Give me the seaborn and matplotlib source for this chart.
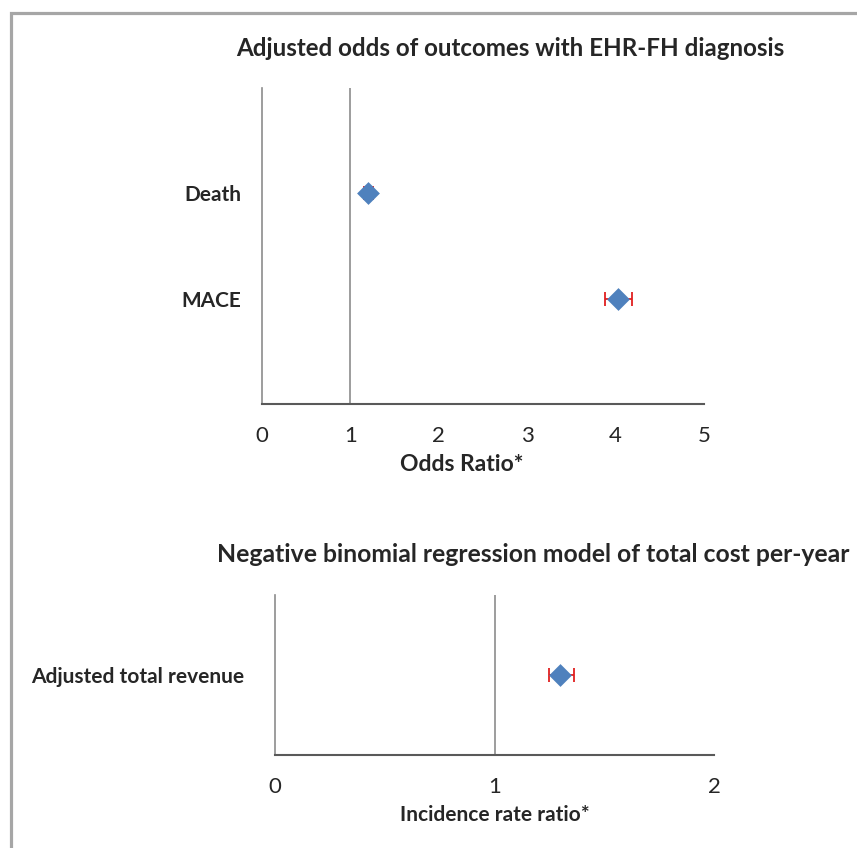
import numpy as np
import pandas as pd
import matplotlib
matplotlib.use("Agg")
import matplotlib.pyplot as plt
from matplotlib.patches import Rectangle
import seaborn as sns

# data
outcomes   = ["Death", "MACE"]
odds_ratio = [1.20, 4.03]
or_lower   = [1.15, 3.88]
or_upper   = [1.25, 4.18]

cost_labels = ["Adjusted total revenue"]
irr         = [1.30]
irr_lower   = [1.25]
irr_upper   = [1.36]

or_ticks  = [0, 1, 2, 3, 4, 5]
irr_ticks = [0, 1, 2]

MARKER = "#4F81BD"
CI_RED = "#E02020"
GRID   = "#8c8c8c"
AXIS   = "#595959"

sns.set_theme(style="white")
plt.rcParams["font.family"] = ["Lato", "DejaVu Sans"]

W, H = 857, 848
fig = plt.figure(figsize=(W / 100, H / 100), dpi=100)


def px_axes(left, top, right, bottom):
    return fig.add_axes([left / W, 1 - bottom / H, (right - left) / W, (bottom - top) / H])


def forest(ax, labels, est, lo, hi, ticks, xlabel, label_fs, ypad):
    df = pd.DataFrame({"label": labels, "est": est})
    pos = np.arange(len(labels))
    err = [np.array(est) - np.array(lo), np.array(hi) - np.array(est)]
    ax.errorbar(est, pos, xerr=err, fmt="none", ecolor=CI_RED, elinewidth=1.3,
                capsize=5, capthick=1.3, zorder=2)
    sns.scatterplot(data=df, x="est", y="label", marker="D", s=135, color=MARKER,
                    edgecolor=MARKER, linewidth=0, zorder=3, ax=ax)
    ax.axvline(1, color=GRID, lw=1.2, zorder=1)
    ax.set_xlim(ticks[0], ticks[-1])
    ax.set_xticks(ticks)
    ax.set_xticklabels([str(t) for t in ticks], fontsize=16)
    ax.set_xlabel(xlabel, fontsize=label_fs, fontweight="bold")
    ax.set_ylabel("")
    ax.set_yticks(pos)
    ax.set_yticklabels(labels, fontsize=15, fontweight="bold")
    for s in ["top", "right"]:
        ax.spines[s].set_visible(False)
    ax.spines["left"].set_color(GRID)
    ax.spines["left"].set_linewidth(1.2)
    ax.spines["bottom"].set_color(AXIS)
    ax.spines["bottom"].set_linewidth(1.5)
    ax.tick_params(axis="x", direction="out", length=5, width=1.3, color=AXIS, pad=11)
    ax.tick_params(axis="y", length=0, pad=ypad)


ax1 = px_axes(262, 88, 704, 404)
forest(ax1, outcomes, odds_ratio, or_lower, or_upper, or_ticks, "Odds Ratio*", 16.5, 15)
ax1.set_ylim(2, -1)
ax1.xaxis.set_label_coords((462 - 262) / 442, -(465 - 404) / 316, transform=ax1.transAxes)
ax1.xaxis.label.set_va("center")

ax2 = px_axes(275, 595, 714, 755)
forest(ax2, cost_labels, irr, irr_lower, irr_upper, irr_ticks, "Incidence rate ratio*", 15, 22)
ax2.set_ylim(1, -1)
ax2.xaxis.set_label_coords((495 - 275) / 439, -(815 - 755) / 160, transform=ax2.transAxes)
ax2.xaxis.label.set_va("center")

fig.text(510 / W, 1 - 48 / H, "Adjusted odds of outcomes with EHR-FH diagnosis",
         ha="center", va="center", fontsize=17.4, fontweight="bold")
fig.text(533 / W, 1 - 555 / H, "Negative binomial regression model of total cost per-year",
         ha="center", va="center", fontsize=17.8, fontweight="bold")

fig.add_artist(Rectangle((10.5 / W, -0.05), 1.0, (H - 12.5) / H + 0.05,
                         transform=fig.transFigure, fill=False,
                         edgecolor="#a6a6a6", lw=2.3))

fig.savefig("out.png", dpi=100)
